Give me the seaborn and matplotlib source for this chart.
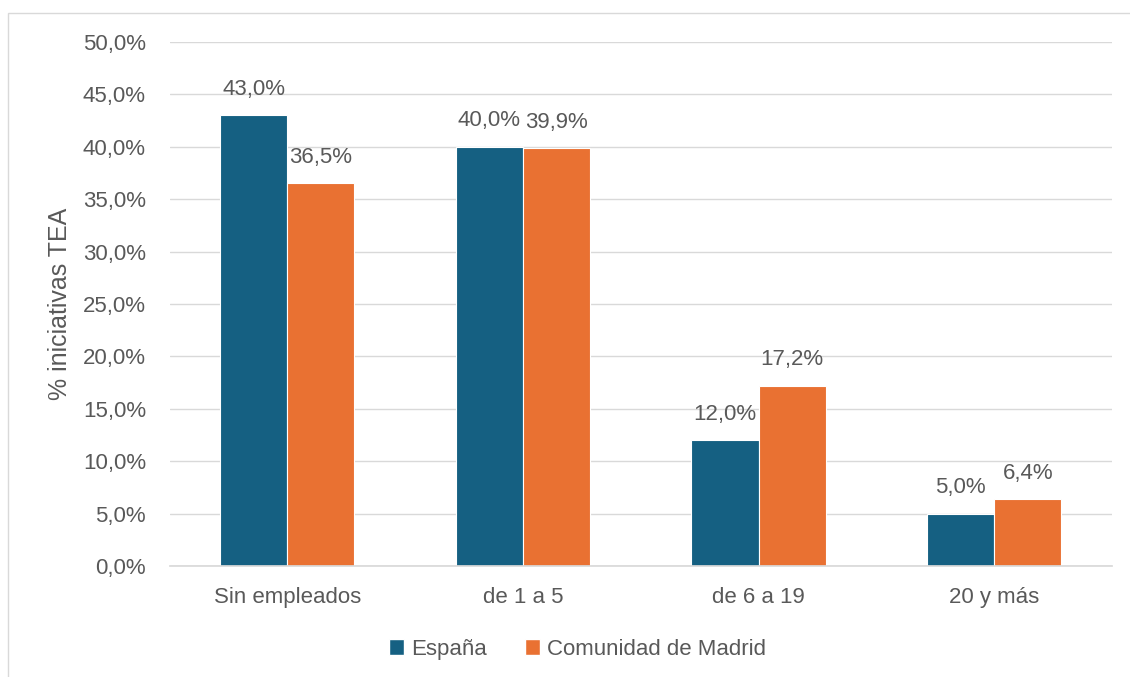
import numpy as np
import pandas as pd
import matplotlib
matplotlib.use("Agg")
import matplotlib.pyplot as plt
import seaborn as sns
from matplotlib.patches import Rectangle, Patch

# ── Data ─────────────────────────────────────────────────────────────────
categories = ["Sin empleados", "de 1 a 5", "de 6 a 19", "20 y más"]
series     = ["España", "Comunidad de Madrid"]
espana     = [43.0, 40.0, 12.0, 5.0]
madrid     = [36.5, 39.9, 17.2, 6.4]
y_ticks    = [0, 5, 10, 15, 20, 25, 30, 35, 40, 45, 50]

colours = ["#156082", "#E97132"]
txt_col = "#595959"

df = pd.DataFrame({
    "cat": categories * 2,
    "serie": [series[0]] * 4 + [series[1]] * 4,
    "val": espana + madrid,
})

sns.set_theme(style="white")
plt.rcParams["font.family"] = ["Liberation Sans", "DejaVu Sans"]

fig = plt.figure(figsize=(11.3, 6.77), dpi=100)
ax = fig.add_axes([0.150, 0.164, 0.834, 0.774])

sns.barplot(data=df, x="cat", y="val", hue="serie", palette=colours,
            width=0.57, ax=ax, legend=False, saturation=1,
            edgecolor="white", linewidth=0.8)

# value labels
for cont in ax.containers:
    for b in cont:
        v = b.get_height()
        ax.annotate(f"{v:.1f}%".replace(".", ","),
                    (b.get_x() + b.get_width() / 2, v),
                    xytext=(0, 11), textcoords="offset points",
                    ha="center", va="bottom", fontsize=16, color=txt_col)

ax.set_ylim(0, 50)
ax.set_yticks(y_ticks)
ax.set_yticklabels([f"{t:.1f}%".replace(".", ",") for t in y_ticks])
ax.set_xlim(-0.5, 3.5)
ax.set_axisbelow(True)
ax.yaxis.grid(True, color="#D9D9D9", linewidth=1)
for s in ["top", "right", "left"]:
    ax.spines[s].set_visible(False)
ax.spines["bottom"].set_color("#D9D9D9")
ax.tick_params(axis="both", length=0, labelsize=16, colors=txt_col)
ax.tick_params(axis="y", pad=17)
ax.tick_params(axis="x", pad=15)
ax.set_xlabel("")
ax.set_ylabel("% iniciativas TEA", fontsize=18, color=txt_col, labelpad=8)

handles = [Patch(facecolor=c, label=s) for c, s in zip(colours, series)]
fig.legend(handles=handles, loc="center", bbox_to_anchor=(0.511, 0.041),
           ncol=2, frameon=False, fontsize=16, labelcolor=txt_col,
           handlelength=0.7, handleheight=0.7, handletextpad=0.3,
           columnspacing=1.7)

# chart border
fig.add_artist(Rectangle((8 / 1130, -0.1), 1.2, 1 - 13 / 677 + 0.1,
                         transform=fig.transFigure, fill=False,
                         edgecolor="#D9D9D9", linewidth=1))

plt.savefig("out.png", dpi=100)
plt.close()
